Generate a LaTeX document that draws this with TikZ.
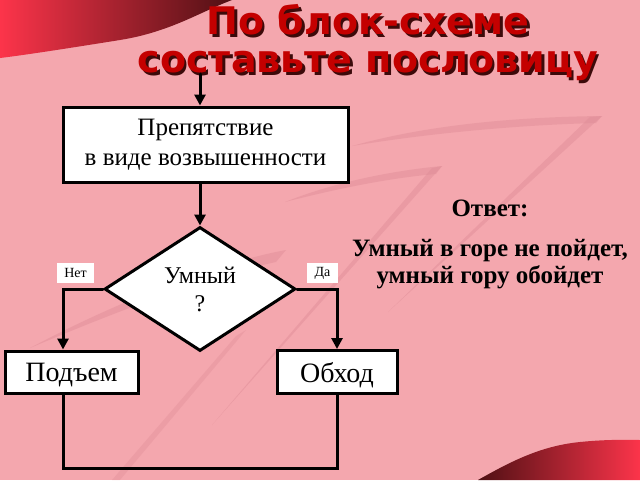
\documentclass[tikz,border=0pt]{standalone}
\usepackage{fontspec}
\setmainfont{Liberation Serif}
\newfontfamily\titlefont{DejaVu Sans}
\usetikzlibrary{shapes.geometric,arrows.meta}
\definecolor{slidepink}{RGB}{244,167,174}
\definecolor{streak}{RGB}{222,140,150}
\definecolor{titlered}{RGB}{196,0,0}
\definecolor{titleshade}{RGB}{60,10,10}
\definecolor{darkwine}{RGB}{80,16,20}
\definecolor{brightred}{RGB}{252,52,74}
\tikzset{
  block/.style={draw, line width=3pt, fill=white, inner sep=0pt, align=center,
    font=\fontsize{25}{30}\selectfont},
  word/.style={block, font=\fontsize{28}{30}\selectfont, text depth=0pt},
  decision/.style={diamond, draw, line width=3pt, fill=white, inner sep=0pt,
    align=center, minimum width=191, minimum height=124,
    font=\fontsize{24}{28}\selectfont},
  tag/.style={fill=white, inner sep=0pt, font=\fontsize{14}{15}\selectfont},
  flow/.style={line width=3pt, line cap=round},
  arr/.style={flow, -{Triangle[length=11pt,width=11pt]}},
  headline/.style={font=\titlefont\bfseries\fontsize{38}{40}\selectfont},
  answer/.style={align=center, font=\bfseries\fontsize{25}{27}\selectfont},
}
\begin{document}
\begin{tikzpicture}[x=1pt,y=-1pt]
\fill[slidepink] (0,0) rectangle (640,480);
\useasboundingbox (0,0) rectangle (640,480);

% background swooshes
\fill[streak, opacity=0.45] (352,146) .. controls (430,124) and (520,117) .. (602,116)
  -- (596,123) .. controls (520,125) and (430,133) .. cycle;
\fill[streak, opacity=0.45] (590,117) -- (602,116) -- (388,312) -- cycle;
\fill[streak, opacity=0.45] (285,202) .. controls (340,180) and (400,170) .. (442,166)
  -- (436,174) .. controls (390,178) and (340,188) .. cycle;
\fill[streak, opacity=0.45] (432,168) -- (442,166) -- (212,425) -- cycle;
\fill[streak, opacity=0.45] (30,348) .. controls (120,300) and (220,262) .. (286,250)
  -- (276,262) .. controls (210,276) and (120,310) .. cycle;
\fill[streak, opacity=0.35] (236,336) -- (246,330) -- (120,480) -- (112,480) -- cycle;
\shade[left color=brightred, right color=darkwine] (0,0) -- (232,0)
  .. controls (200,12) and (170,32) .. (120,40) .. controls (70,48) and (25,55) .. (0,58) -- cycle;
\shade[left color=darkwine, right color=brightred] (478,480)
  .. controls (510,462) and (540,446) .. (580,442) .. controls (610,439) and (630,440) .. (640,440)
  -- (640,480) -- cycle;

% title with shadow
\foreach \dx/\col/\nm in {2.5/titleshade/s, 0/titlered/m} {
  \node[headline, text=\col] (titletop\nm) at (368+\dx,20+\dx) {По блок-схеме};
  \node[headline, text=\col] (titlebot\nm) at (368+\dx,66+\dx) {составьте пословицу};
}

% flowchart
\coordinate (entry) at (200,74);
\coordinate (leftrail) at (63,0);
\coordinate (rightrail) at (337,0);
\coordinate (bottomrail) at (0,468);
\node[block, minimum width=285, minimum height=75] (obstacle) at (205.5,144.5)
  {Препятствие\\в виде возвышенности};
\node[decision] (smart) at (200,289) {Умный\\?};
\node[word, minimum width=133, minimum height=42] (climb) at (71.5,372) {Подъем};
\node[word, minimum width=120, minimum height=43] (detour) at (337,372) {Обход};
\node[tag, minimum width=37, minimum height=20] (no) at (75.5,273) {Нет};
\node[tag, minimum width=31, minimum height=20] (yes) at (322.5,273) {Да};

\draw[arr] (entry) -- (entry |- obstacle.north);
\draw[arr] (smart.north |- obstacle.south) -- (smart.north);
\draw[arr] (smart.west) -| (leftrail |- climb.north);
\draw[arr] (smart.east) -| (rightrail |- detour.north);
\draw[flow] (leftrail |- climb.south) -- (leftrail |- bottomrail)
  -- (rightrail |- bottomrail) -- (rightrail |- detour.south);

% answer
\node[answer] (answerhead) at (490,208) {Ответ:};
\node[answer] (proverb) at (490,264) {Умный в горе не пойдет,\\умный гору обойдет};
\end{tikzpicture}
\end{document}
